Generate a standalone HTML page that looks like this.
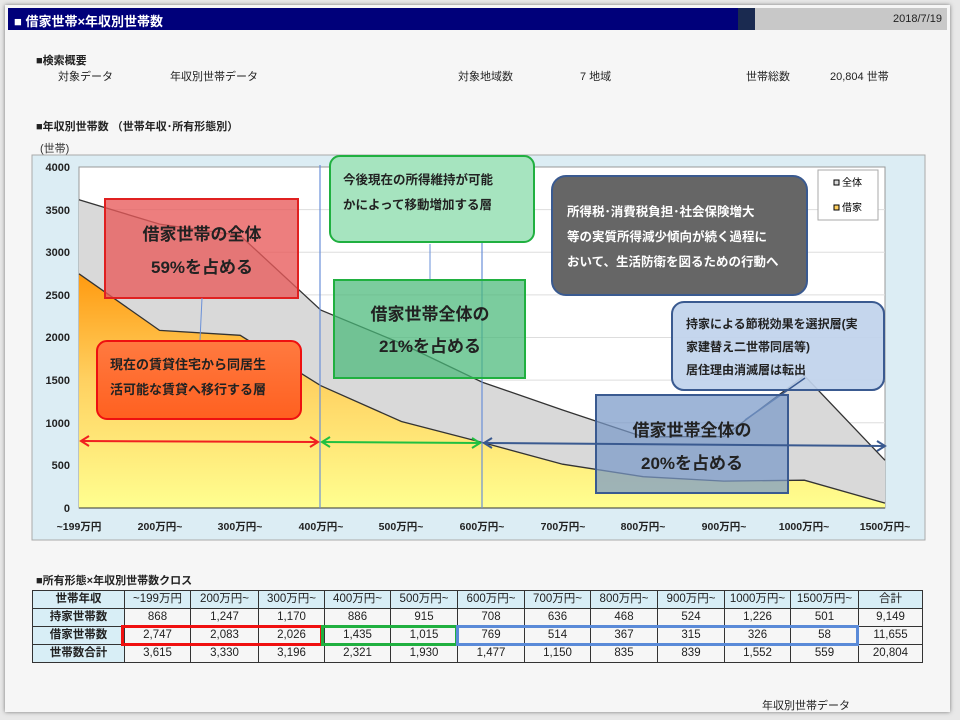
<!DOCTYPE html>
<html><head><meta charset="utf-8"><style>
body{margin:0;width:960px;height:720px;background:#e8e8e8;font-family:"Liberation Sans","Noto Sans CJK JP",sans-serif;overflow:hidden}
.abs{position:absolute}
.t{position:absolute;font-size:11px;color:#222;white-space:nowrap}
table{border-collapse:collapse;position:absolute;left:32px;top:590px;font-size:11.5px;color:#222;table-layout:fixed;width:890px}
td{border:1px solid #333;height:17px;line-height:17px;text-align:center;padding:0;overflow:hidden;white-space:nowrap;box-sizing:border-box}
td.h{background:#d8eef6;font-weight:bold}
tr.hd td{background:#d8eef6}
</style></head><body>
<div class="abs" style="left:5px;top:5px;width:945px;height:707px;background:#f6f6f6;box-shadow:0 0 4px #777"></div>
<div class="abs" style="left:8px;top:8px;width:730px;height:22px;background:#00007a"></div>
<div class="abs" style="left:738px;top:8px;width:17px;height:22px;background:#1a2a50"></div>
<div class="abs" style="left:755px;top:8px;width:192px;height:22px;background:#c8c8c8"></div>
<div class="t" style="left:14px;top:11px;color:#fff;font-weight:bold;font-size:13px">■ 借家世帯×年収別世帯数</div>
<div class="t" style="left:893px;top:13px">2018/7/19</div>
<div class="t" style="left:36px;top:52px;font-weight:bold">■検索概要</div>
<div class="t" style="left:58px;top:68px">対象データ</div>
<div class="t" style="left:170px;top:68px">年収別世帯データ</div>
<div class="t" style="left:458px;top:68px">対象地域数</div>
<div class="t" style="left:580px;top:68px">7 地域</div>
<div class="t" style="left:746px;top:68px">世帯総数</div>
<div class="t" style="left:830px;top:68px">20,804 世帯</div>
<div class="t" style="left:36px;top:118px;font-weight:bold">■年収別世帯数 （世帯年収･所有形態別）</div>
<svg class="abs" style="left:0;top:0" width="960" height="720" font-family="Liberation Sans, Noto Sans CJK JP, sans-serif">
<defs>
<linearGradient id="og" x1="0" y1="0" x2="0" y2="1"><stop offset="0" stop-color="#ff9a10"/><stop offset="0.45" stop-color="#ffd060"/><stop offset="1" stop-color="#ffff90"/></linearGradient>
<linearGradient id="rg" x1="0" y1="0" x2="0" y2="1"><stop offset="0" stop-color="#ff7a40"/><stop offset="1" stop-color="#ff6020"/></linearGradient>
</defs>
<rect x="32" y="155" width="893" height="385" fill="#dcedf4" stroke="#aaa"/>
<rect x="79" y="167" width="806" height="341" fill="#fff" stroke="#999"/>
<g stroke="#ddd"><line x1="79" x2="885" y1="465.4" y2="465.4"/><line x1="79" x2="885" y1="422.7" y2="422.7"/><line x1="79" x2="885" y1="380.1" y2="380.1"/><line x1="79" x2="885" y1="337.5" y2="337.5"/><line x1="79" x2="885" y1="294.9" y2="294.9"/><line x1="79" x2="885" y1="252.3" y2="252.3"/><line x1="79" x2="885" y1="209.6" y2="209.6"/></g>
<polygon points="79,508 79,199.8 159.6,224.1 240.2,235.5 320.8,310.1 401.4,343.5 482,382.1 562.6,410 643.2,436.8 723.8,436.5 804.4,375.7 885,460.3 885,508" fill="#d9d9d9"/>
<polyline points="79,199.8 159.6,224.1 240.2,235.5 320.8,310.1 401.4,343.5 482,382.1 562.6,410 643.2,436.8 723.8,436.5 804.4,375.7 885,460.3" fill="none" stroke="#333" stroke-width="1.3"/>
<polygon points="79,508 79,273.8 159.6,330.4 240.2,335.3 320.8,385.7 401.4,421.5 482,442.4 562.6,464.2 643.2,476.7 723.8,481.1 804.4,480.2 885,503.1 885,508" fill="url(#og)"/>
<polyline points="79,273.8 159.6,330.4 240.2,335.3 320.8,385.7 401.4,421.5 482,442.4 562.6,464.2 643.2,476.7 723.8,481.1 804.4,480.2 885,503.1" fill="none" stroke="#333" stroke-width="1.3"/>
<line x1="79" y1="508" x2="885" y2="508" stroke="#333"/>
<g font-size="11" font-weight="bold" fill="#222" text-anchor="end">
<text x="70" y="512">0</text><text x="70" y="469">500</text><text x="70" y="427">1000</text><text x="70" y="384">1500</text><text x="70" y="341">2000</text><text x="70" y="299">2500</text><text x="70" y="256">3000</text><text x="70" y="214">3500</text><text x="70" y="171">4000</text></g>
<text x="40" y="152" font-size="11" fill="#333">(世帯)</text>
<g font-size="10.5" font-weight="bold" fill="#222" text-anchor="middle">
<text x="79" y="530">~199万円</text><text x="160" y="530">200万円~</text><text x="240" y="530">300万円~</text><text x="321" y="530">400万円~</text><text x="401" y="530">500万円~</text><text x="482" y="530">600万円~</text><text x="563" y="530">700万円~</text><text x="643" y="530">800万円~</text><text x="724" y="530">900万円~</text><text x="804" y="530">1000万円~</text><text x="885" y="530">1500万円~</text></g>
<rect x="818" y="170" width="60" height="50" fill="#fff" stroke="#aaa"/>
<rect x="834" y="180" width="5" height="5" fill="#d9d9d9" stroke="#000"/><text x="842" y="186" font-size="10">全体</text>
<rect x="834" y="205" width="5" height="5" fill="#ffd060" stroke="#000"/><text x="842" y="211" font-size="10">借家</text>
<line x1="320" y1="165" x2="320" y2="508" stroke="#6a90d8" stroke-width="1.2"/>
<line x1="482" y1="165" x2="482" y2="508" stroke="#6a90d8" stroke-width="1.2"/>
<rect x="105" y="199" width="193" height="99" fill="#e85a5a" fill-opacity="0.78" stroke="#e02020" stroke-width="2"/>
<text x="202" y="240" font-size="17" font-weight="bold" text-anchor="middle" fill="#222">借家世帯の全体</text>
<text x="202" y="273" font-size="17" font-weight="bold" text-anchor="middle" fill="#222">59%を占める</text>
<line x1="202" y1="298" x2="200" y2="340" stroke="#6a90d8"/>
<rect x="97" y="341" width="204" height="78" rx="10" fill="url(#rg)" stroke="#ee1010" stroke-width="2"/>
<text x="110" y="369" font-size="13" font-weight="bold" fill="#222">現在の賃貸住宅から同居生</text>
<text x="110" y="394" font-size="13" font-weight="bold" fill="#222">活可能な賃貸へ移行する層</text>
<rect x="330" y="156" width="204" height="86" rx="10" fill="#a6e4bf" stroke="#20b040" stroke-width="2"/>
<text x="343" y="184" font-size="12.5" font-weight="bold" fill="#222">今後現在の所得維持が可能</text>
<text x="343" y="209" font-size="12.5" font-weight="bold" fill="#222">かによって移動増加する層</text>
<line x1="430" y1="280" x2="430" y2="244" stroke="#6a90d8"/>
<rect x="334" y="280" width="191" height="98" fill="#48b878" fill-opacity="0.72" stroke="#20b040" stroke-width="2"/>
<text x="430" y="320" font-size="17" font-weight="bold" text-anchor="middle" fill="#222">借家世帯全体の</text>
<text x="430" y="352" font-size="17" font-weight="bold" text-anchor="middle" fill="#222">21%を占める</text>
<rect x="552" y="176" width="255" height="119" rx="14" fill="#666" stroke="#3a5a90" stroke-width="2"/>
<text x="567" y="216" font-size="12.5" font-weight="bold" fill="#fff">所得税･消費税負担･社会保険増大</text>
<text x="567" y="241" font-size="12.5" font-weight="bold" fill="#fff">等の実質所得減少傾向が続く過程に</text>
<text x="567" y="266" font-size="12.5" font-weight="bold" fill="#fff">おいて、生活防衛を図るための行動へ</text>
<rect x="672" y="302" width="212" height="88" rx="12" fill="#c0d2ec" fill-opacity="0.92" stroke="#3a5a90" stroke-width="2"/>
<text x="686" y="328" font-size="12" font-weight="bold" fill="#222">持家による節税効果を選択層(実</text>
<text x="686" y="351" font-size="12" font-weight="bold" fill="#222">家建替え二世帯同居等)</text>
<text x="686" y="374" font-size="12" font-weight="bold" fill="#222">居住理由消滅層は転出</text>
<line x1="805" y1="378" x2="745" y2="420" stroke="#3a5a90" stroke-width="1.5"/>
<rect x="596" y="395" width="192" height="98" fill="#7898c8" fill-opacity="0.72" stroke="#3a5a90" stroke-width="2"/>
<text x="692" y="436" font-size="17" font-weight="bold" text-anchor="middle" fill="#222">借家世帯全体の</text>
<text x="692" y="469" font-size="17" font-weight="bold" text-anchor="middle" fill="#222">20%を占める</text>
<g stroke-width="2" fill="none">
<line x1="81" y1="441" x2="318" y2="442" stroke="#f02020"/><polyline points="89,436 81,441 89,446" stroke="#f02020"/><polyline points="310,437 318,442 310,447" stroke="#f02020"/>
<line x1="322" y1="442" x2="480" y2="443" stroke="#20c040"/><polyline points="330,437 322,442 330,447" stroke="#20c040"/><polyline points="472,438 480,443 472,448" stroke="#20c040"/>
<line x1="484" y1="443" x2="885" y2="446" stroke="#3a5a90"/><polyline points="492,438 484,443 492,448" stroke="#3a5a90"/><polyline points="877,441 885,446 877,451" stroke="#3a5a90"/>
</g>
</svg>
<div class="t" style="left:36px;top:572px;font-weight:bold">■所有形態×年収別世帯数クロス</div>
<table>
<colgroup><col style="width:92px"><col style="width:66px"><col style="width:68px"><col style="width:66px"><col style="width:66px"><col style="width:67px"><col style="width:67px"><col style="width:66px"><col style="width:67px"><col style="width:67px"><col style="width:66px"><col style="width:68px"><col style="width:64px"></colgroup>
<tr class="hd"><td class="h">世帯年収</td><td>~199万円</td><td>200万円~</td><td>300万円~</td><td>400万円~</td><td>500万円~</td><td>600万円~</td><td>700万円~</td><td>800万円~</td><td>900万円~</td><td>1000万円~</td><td>1500万円~</td><td>合計</td></tr>
<tr><td class="h">持家世帯数</td><td>868</td><td>1,247</td><td>1,170</td><td>886</td><td>915</td><td>708</td><td>636</td><td>468</td><td>524</td><td>1,226</td><td>501</td><td>9,149</td></tr>
<tr><td class="h">借家世帯数</td><td>2,747</td><td>2,083</td><td>2,026</td><td>1,435</td><td>1,015</td><td>769</td><td>514</td><td>367</td><td>315</td><td>326</td><td>58</td><td>11,655</td></tr>
<tr><td class="h">世帯数合計</td><td>3,615</td><td>3,330</td><td>3,196</td><td>2,321</td><td>1,930</td><td>1,477</td><td>1,150</td><td>835</td><td>839</td><td>1,552</td><td>559</td><td>20,804</td></tr>
</table>
<div class="abs" style="left:121px;top:625px;width:196px;height:15px;border:3px solid #f01010"></div>
<div class="abs" style="left:321px;top:625px;width:131px;height:15px;border:3px solid #20b040"></div>
<div class="abs" style="left:456px;top:625px;width:397px;height:15px;border:3px solid #5a8ad8"></div>
<div class="t" style="left:762px;top:697px">年収別世帯データ</div>
</body></html>
